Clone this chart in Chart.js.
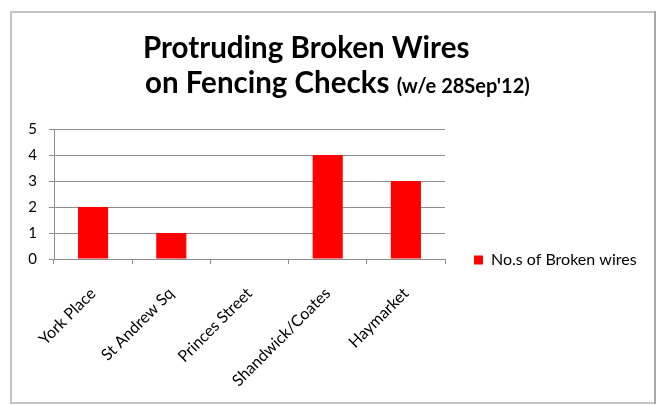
<!DOCTYPE html>
<html>
<head>
<meta charset="utf-8">
<script src="https://cdn.jsdelivr.net/npm/chart.js@4"></script>
<style>
  html, body { margin: 0; padding: 0; background: #fff; }
  #wrap { width: 662px; height: 405px; position: relative; }
</style>
</head>
<body>
<div id="wrap"><canvas id="c" width="662" height="405"></canvas></div>
<script>
// Sites checked and number of protruding broken wires found at each
const sites = ['York Place', 'St Andrew Sq', 'Princes Street', 'Shandwick/Coates', 'Haymarket'];
const brokenWires = [2, 1, 0, 4, 3];
const seriesName = 'No.s of Broken wires';
const titleLine1 = 'Protruding Broken Wires';
const titleLine2Main = 'on Fencing Checks';
const titleLine2Note = '(w/e 28Sep\'12)';
const yMin = 0, yMax = 5, yStep = 1;

const GRID = '#8c8c8c';
const FONT = 'Lato, "Open Sans", sans-serif';
const LEGEND_WIDTH = 205;

// Frame around the chart and the two-line heading
const framePlugin = {
  id: 'frameAndHeading',
  afterInit(chart) {
    // let the right-hand legend take a fixed column instead of the default quarter-width cap
    const legend = chart.legend;
    if (legend) {
      const baseUpdate = legend.update;
      legend.update = function (maxWidth, maxHeight, margins) {
        baseUpdate.call(this, Math.max(maxWidth, 400), maxHeight, margins);
        this.width = LEGEND_WIDTH;
      };
    }
  },
  beforeDraw(chart) {
    const ctx = chart.ctx;
    ctx.save();
    ctx.fillStyle = '#fff';
    ctx.fillRect(0, 0, chart.width, chart.height);
    ctx.strokeStyle = '#c4c4c4';
    ctx.lineWidth = 2;
    ctx.strokeRect(11, 12, 644, 391);
    ctx.strokeStyle = '#a8a8a8';
    ctx.beginPath();
    ctx.moveTo(655, 11);
    ctx.lineTo(655, 404);
    ctx.stroke();
    ctx.restore();
  },
  afterDraw(chart) {
    const ctx = chart.ctx;
    ctx.save();
    ctx.fillStyle = '#000';
    ctx.textBaseline = 'alphabetic';
    ctx.textAlign = 'left';
    ctx.font = 'bold 29.5px ' + FONT;
    ctx.fillText(titleLine1, 143, 58);
    ctx.fillText(titleLine2Main, 145, 93);
    const w = ctx.measureText(titleLine2Main + ' ').width;
    ctx.font = 'bold 20px ' + FONT;
    ctx.fillText(titleLine2Note, 145 + w, 93);
    ctx.restore();
  }
};

new Chart(document.getElementById('c'), {
  type: 'bar',
  data: {
    labels: sites,
    datasets: [{
      label: seriesName,
      data: brokenWires,
      backgroundColor: '#ff0000',
      borderWidth: 0,
      categoryPercentage: 1,
      barPercentage: 0.385
    }]
  },
  options: {
    responsive: false,
    animation: false,
    devicePixelRatio: 1,
    layout: { padding: { top: 129, bottom: 14, left: 10, right: 12 } },
    plugins: {
      title: { display: false },
      tooltip: { enabled: false },
      legend: {
        position: 'right',
        labels: {
          boxWidth: 9,
          boxHeight: 9,
          padding: 29,
          color: '#000',
          font: { family: FONT, size: 16 }
        }
      }
    },
    scales: {
      x: {
        afterFit(scale) { scale.height = 132; },
        grid: {
          offset: true,
          drawOnChartArea: false,
          drawTicks: true,
          tickLength: 5,
          color: GRID
        },
        border: { display: true, color: GRID, width: 1 },
        ticks: {
          maxRotation: 45,
          minRotation: 45,
          autoSkip: false,
          padding: 20,
          color: '#000',
          font: { family: FONT, size: 16 }
        }
      },
      y: {
        min: yMin,
        max: yMax,
        afterFit(scale) { scale.width = 44; },
        grid: {
          color: GRID,
          tickLength: 5,
          drawTicks: true
        },
        border: { display: true, color: GRID, width: 1 },
        ticks: {
          stepSize: yStep,
          padding: 12,
          color: '#000',
          font: { family: FONT, size: 15 }
        }
      }
    }
  },
  plugins: [framePlugin]
});
</script>
</body>
</html>
